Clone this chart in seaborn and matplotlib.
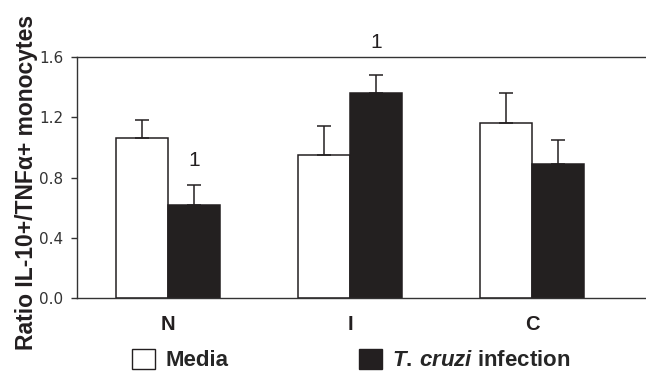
import matplotlib
matplotlib.use("Agg")
import matplotlib.pyplot as plt
import seaborn as sns
import pandas as pd
import numpy as np
from matplotlib.patches import Patch

groups = ["N", "I", "C"]
conditions = ["Media", "T. cruzi infection"]
media_vals = [1.06, 0.95, 1.16]
media_err = [0.12, 0.19, 0.20]
infect_vals = [0.62, 1.36, 0.89]
infect_err = [0.13, 0.12, 0.16]
yticks = [0.0, 0.4, 0.8, 1.2, 1.6]
ytick_labels = ["0.0", "0.4", "0.8", "1.2", "1.6"]
annotations = [("N", "T. cruzi infection", 0.915, "1"), ("I", "T. cruzi infection", 1.697, "1")]

sns.set_theme(style="white")
plt.rcParams["font.family"] = ["Liberation Sans", "DejaVu Sans"]
plt.rcParams["mathtext.fontset"] = "custom"
plt.rcParams["mathtext.it"] = "Liberation Sans:italic:bold"
plt.rcParams["mathtext.rm"] = "Liberation Sans:bold"

df = pd.DataFrame({
    "group": groups * 2,
    "condition": [conditions[0]] * 3 + [conditions[1]] * 3,
    "value": media_vals + infect_vals,
    "err": media_err + infect_err,
})

fig = plt.figure(figsize=(6.46, 3.79), dpi=100)
ax = fig.add_axes([77 / 646, 81 / 379, 1 - 77 / 646 + 0.01, 241 / 379])

ink = "#231f20"
sns.barplot(data=df, x="group", y="value", hue="condition", order=groups,
            hue_order=conditions, palette=["white", ink], edgecolor=ink,
            linewidth=1.1, width=0.567, gap=0, errorbar=None, legend=False, ax=ax)

centers = {}
for cond_i, cond in enumerate(conditions):
    for g_i, g in enumerate(groups):
        p = ax.containers[cond_i][g_i]
        cx = p.get_x() + p.get_width() / 2
        h = p.get_height()
        e = df[(df.group == g) & (df.condition == cond)]["err"].iloc[0]
        centers[(g, cond)] = cx
        ax.errorbar([cx], [h], yerr=[[0], [e]], fmt="none", ecolor=ink,
                    elinewidth=1.1, capsize=4.7, capthick=1.1, zorder=1)

for g, cond, y, txt in annotations:
    ax.text(centers[(g, cond)], y, txt, ha="center", va="center",
            fontsize=15, color=ink, clip_on=False)

ax.set_ylim(0, 1.6)
ax.set_xlim(-0.5, (646 - 77) / 180 - 0.5)
ax.set_yticks(yticks)
ax.set_yticklabels(ytick_labels, family="DejaVu Sans", fontsize=11, color="#333333")
ax.set_xticks([0, 1, 2])
ax.set_xticklabels(groups, fontsize=14.5, fontweight="bold", color=ink)
ax.set_xticks([-0.5, 0.5, 1.5, 2.5], minor=True)
ax.tick_params(axis="x", which="major", length=0, pad=12)
ax.tick_params(axis="x", which="minor", direction="out", length=4, width=1, color="#333333")
ax.tick_params(axis="y", direction="out", length=4, width=1, color="#333333", pad=6, left=True)
ax.set_xlabel("")
ax.set_ylabel("Ratio IL-10+/TNF\u03b1+ monocytes", fontsize=16.5, fontweight="bold",
              color=ink, labelpad=0.5)
ax.yaxis.label.set_y(0.481)
for s in ["left", "bottom", "top"]:
    ax.spines[s].set_visible(True)
    ax.spines[s].set_color("#333333")
    ax.spines[s].set_linewidth(1.0)
ax.spines["right"].set_visible(False)

handles = [Patch(facecolor="white", edgecolor=ink, linewidth=1.0),
           Patch(facecolor=ink, edgecolor=ink, linewidth=1.0)]
labels = ["Media", r"$T.\,cruzi$ infection"]
fig.legend(handles, labels, ncol=2, frameon=False, loc="center left",
           bbox_to_anchor=(132 / 646, 19 / 379),
           prop={"weight": "bold", "size": 16},
           handlelength=1.04, handleheight=1.04, handletextpad=0.45,
           columnspacing=5.9, borderpad=0, borderaxespad=0)

fig.savefig("out.png", dpi=100)
